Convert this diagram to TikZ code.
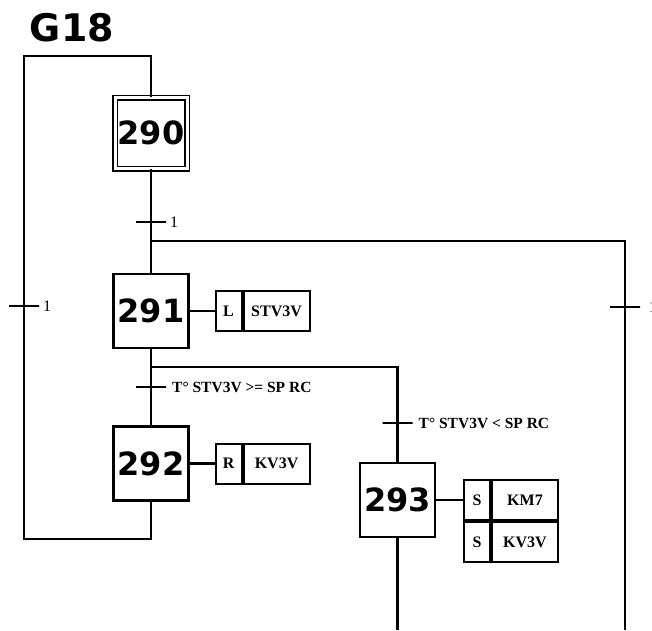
\documentclass[tikz,border=0pt]{standalone}
\usepackage{fontspec}
\setmainfont{Liberation Serif}
\newfontfamily\stepfont{DejaVu Sans}
\usetikzlibrary{positioning}

\begin{document}
\begin{tikzpicture}[x=1pt, y=-1pt,
  every node/.style={inner sep=0pt},
  etape/.style={rectangle, draw, line width=2.1pt, minimum width=75pt, minimum height=74pt,
                font=\stepfont\bfseries\fontsize{32}{32}\selectfont},
  initiale/.style={etape, double, line width=1.5pt, double distance=3pt,
                   minimum width=72pt, minimum height=71pt},
  trans/.style={rectangle, draw, line width=2pt, minimum width=30pt, minimum height=0pt},
  cond/.style={font=\bfseries\fontsize{15.5}{15.5}\selectfont, anchor=west},
  rec/.style={font=\fontsize{16}{16}\selectfont, anchor=west},
  qual/.style={rectangle, draw, line width=2pt, minimum width=26pt, minimum height=40pt,
               font=\bfseries\fontsize{16}{16}\selectfont},
  ordre/.style={qual, minimum width=66pt},
  liaison/.style={line width=2.1pt}
]
  \useasboundingbox (0,0) rectangle (652,630);

  \node[font=\stepfont\bfseries\fontsize{38}{38}\selectfont] (g18) at (72,28) {G18};

  % etapes
  \node[initiale] (s290) at (151,133) {290};
  \node[etape] (s291) at (151,311) {291};
  \node[etape] (s292) at (151,463.5) {292};
  \node[etape] (s293) at (397.5,500) {293};

  % actions
  \node[qual, right=25pt of s291] (q291) {L};
  \node[ordre, right=0pt of q291] (o291) {STV3V};
  \node[qual, right=25pt of s292] (q292) {R};
  \node[ordre, right=0pt of q292] (o292) {KV3V};
  \node[qual, anchor=south west] (q293a) at (463,521) {S};
  \node[ordre, right=0pt of q293a] (o293a) {KM7};
  \node[qual, below=0pt of q293a] (q293b) {S};
  \node[ordre, right=0pt of q293b] (o293b) {KV3V};

  % points de liaison
  \coordinate (b1) at (151,241);
  \coordinate (b2) at (151,367);
  \coordinate (loopbl) at (24,539);
  \coordinate (looptl) at (24,56);
  \coordinate (finR) at (625,630);
  \coordinate (fin293) at (397.5,630);

  % liaisons
  \draw[liaison] (s290) -- (s291);
  \draw[liaison] (s291) -- (s292);
  \draw[liaison] (s292.south) |- (loopbl) -- (looptl) -| (s290.north);
  \draw[liaison] (b1) -| (finR);
  \draw[liaison] (b2) -| (s293.north);
  \draw[liaison] (s293.south) -- (fin293);
  \draw[liaison] (s291) -- (q291);
  \draw[liaison] (s292) -- (q292);
  \draw[liaison] (s293.east) -- (s293.east -| q293a.west);

  % transitions
  \node[trans] (t1) at (151,222) {};
  \node[trans] (t0) at (24,306) {};
  \node[trans] (tR) at (625,307) {};
  \node[trans] (t2) at (151,387) {};
  \node[trans] (t3) at (397.5,423) {};
  \node[rec, right=3pt of t1] (r1) {1};
  \node[rec, right=3pt of t0] (r0) {1};
  \node[rec, right=8pt of tR] (rR) {1};
  \node[cond, right=5pt of t2] (c2) {T° STV3V >= SP RC};
  \node[cond, right=5pt of t3] (c3) {T° STV3V < SP RC};
\end{tikzpicture}
\end{document}
